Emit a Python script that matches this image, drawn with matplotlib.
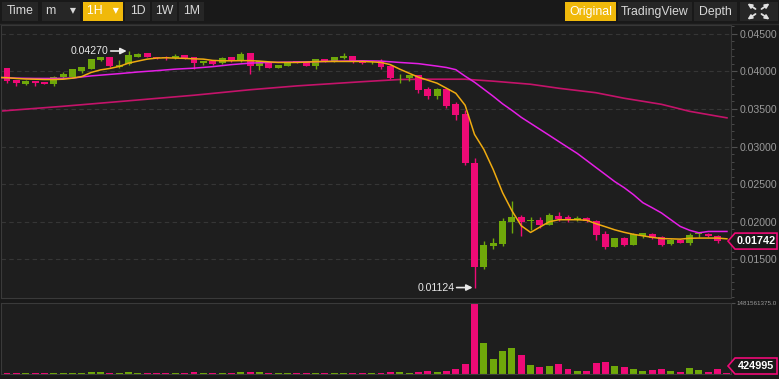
import matplotlib.pyplot as plt
from matplotlib.patches import Rectangle, Polygon, FancyArrowPatch
from matplotlib.transforms import IdentityTransform
from matplotlib.ticker import FixedLocator, MultipleLocator, FormatStrFormatter

plt.rcParams['font.family'] = ['Liberation Sans', 'DejaVu Sans']

# 1H candles, index -1 is the one cut off at the left edge
candle_idx = list(range(-1, 78))

opens = [0.03905,
         0.04038, 0.03882, 0.03832, 0.03868, 0.03855, 0.03828, 0.03931, 0.03931, 0.04006, 0.04029,
         0.04149, 0.04185, 0.04054, 0.04095, 0.04196, 0.04242, 0.04189, 0.04185, 0.04176, 0.04216,
         0.04189, 0.04105, 0.04136, 0.04105, 0.04185, 0.04136, 0.04242, 0.04073, 0.04126, 0.04046,
         0.04073, 0.04136, 0.04126, 0.04073, 0.04162, 0.04126, 0.04180, 0.04206, 0.04125, 0.04118,
         0.04140, 0.04073, 0.03909, 0.03909, 0.03949, 0.03762, 0.03672, 0.03771, 0.03561, 0.03427,
         0.02783, 0.01403, 0.01683, 0.01706, 0.01990, 0.02057, 0.02003, 0.02026, 0.01959, 0.02079,
         0.02057, 0.02017, 0.02048, 0.02013, 0.01835, 0.01669, 0.01782, 0.01692, 0.01803, 0.01835,
         0.01795, 0.01702, 0.01760, 0.01723, 0.01835, 0.01840, 0.01813, 0.01745]
closes = [0.04038,
          0.03873, 0.03838, 0.03873, 0.03842, 0.03833, 0.03931, 0.03962, 0.04029, 0.04051, 0.04162,
          0.04189, 0.04065, 0.04089, 0.04216, 0.04233, 0.04189, 0.04172, 0.04172, 0.04202, 0.04180,
          0.04109, 0.04136, 0.04095, 0.04180, 0.04136, 0.04233, 0.04073, 0.04136, 0.04046, 0.04082,
          0.04126, 0.04118, 0.04073, 0.04162, 0.04126, 0.04185, 0.04206, 0.04118, 0.04118, 0.04130,
          0.04059, 0.03909, 0.03915, 0.03949, 0.03748, 0.03672, 0.03771, 0.03539, 0.03419, 0.02783,
          0.01403, 0.01692, 0.01723, 0.02003, 0.02057, 0.02000, 0.02026, 0.01950, 0.02093, 0.02039,
          0.02017, 0.02048, 0.02003, 0.01826, 0.01669, 0.01782, 0.01692, 0.01835, 0.01848, 0.01782,
          0.01692, 0.01760, 0.01723, 0.01826, 0.01848, 0.01803, 0.01737, 0.01742]
highs = [0.04050,
         0.04050, 0.03885, 0.03878, 0.03872, 0.03858, 0.03935, 0.03985, 0.04035, 0.04060, 0.04170,
         0.04195, 0.04190, 0.04153, 0.04270, 0.04240, 0.04245, 0.04195, 0.04210, 0.04235, 0.04222,
         0.04195, 0.04140, 0.04140, 0.04185, 0.04190, 0.04255, 0.04245, 0.04140, 0.04130, 0.04085,
         0.04130, 0.04140, 0.04130, 0.04168, 0.04166, 0.04190, 0.04240, 0.04210, 0.04140, 0.04135,
         0.04162, 0.04078, 0.03960, 0.03952, 0.03955, 0.03790, 0.03775, 0.03775, 0.03592, 0.03485,
         0.02850, 0.01745, 0.01782, 0.02050, 0.02280, 0.02093, 0.02057, 0.02057, 0.02115, 0.02123,
         0.02085, 0.02070, 0.02065, 0.02020, 0.01870, 0.01785, 0.01800, 0.01855, 0.01855, 0.01855,
         0.01815, 0.01765, 0.01770, 0.01855, 0.01860, 0.01845, 0.01825, 0.01746]
lows = [0.03890,
        0.03851, 0.03806, 0.03815, 0.03810, 0.03828, 0.03806, 0.03905, 0.03925, 0.03975, 0.04025,
        0.04140, 0.04060, 0.04050, 0.04090, 0.04190, 0.04185, 0.04165, 0.04150, 0.04170, 0.04170,
        0.04029, 0.04080, 0.04085, 0.04100, 0.04125, 0.04130, 0.03962, 0.04020, 0.04040, 0.04040,
        0.04068, 0.04112, 0.04068, 0.04029, 0.04120, 0.04120, 0.04165, 0.04112, 0.04100, 0.04095,
        0.04029, 0.03900, 0.03850, 0.03870, 0.03715, 0.03630, 0.03635, 0.03515, 0.03348, 0.02751,
        0.01124, 0.01368, 0.01635, 0.01679, 0.01848, 0.01803, 0.01893, 0.01915, 0.01955, 0.02003,
        0.01990, 0.02010, 0.01995, 0.01757, 0.01635, 0.01665, 0.01680, 0.01685, 0.01780, 0.01770,
        0.01680, 0.01690, 0.01715, 0.01690, 0.01790, 0.01798, 0.01715, 0.01740]

# volume in millions
volumes = [21.5,
           21.5, 21.5, 21.5, 21.5, 21.5, 21.5, 21.5, 21.5, 21.5, 43.0,
           43.0, 21.5, 21.5, 43.0, 21.5, 21.5, 21.5, 21.5, 21.5, 21.5,
           43.0, 21.5, 21.5, 21.5, 21.5, 43.0, 43.0, 43.0, 21.5, 21.5,
           21.5, 21.5, 21.5, 21.5, 21.5, 21.5, 21.5, 21.5, 21.5, 21.5,
           21.5, 43.0, 43.0, 21.5, 43.0, 64.4, 43.0, 64.4, 107.4, 214.7,
           1481.561375, 644.2, 322.1, 472.4, 536.8, 386.5, 193.2, 150.3, 171.8, 214.7,
           107.4, 64.4, 64.4, 236.2, 257.7, 171.8, 150.3, 107.4, 64.4, 85.9,
           107.4, 64.4, 43.0, 128.8, 85.9, 43.0, 107.4, 0.424995]

ma7 = [0.03919,
       0.03915, 0.03905, 0.03898, 0.03895, 0.03891, 0.03891, 0.03895, 0.03909, 0.03931, 0.03985,
       0.04019, 0.04038, 0.04065, 0.04109, 0.04136, 0.04162, 0.04176, 0.04180, 0.04176, 0.04172,
       0.04166, 0.04162, 0.04145, 0.04140, 0.04140, 0.04142, 0.04142, 0.04136, 0.04126, 0.04118,
       0.04118, 0.04118, 0.04122, 0.04129, 0.04131, 0.04131, 0.04131, 0.04131, 0.04131, 0.04126,
       0.04118, 0.04089, 0.04029, 0.03975, 0.03922, 0.03882, 0.03842, 0.03775, 0.03708, 0.03548,
       0.03161, 0.02961, 0.02694, 0.02387, 0.02146, 0.01946, 0.01857, 0.01929, 0.01999, 0.02026,
       0.02026, 0.02026, 0.02019, 0.01973, 0.01933, 0.01892, 0.01859, 0.01832, 0.01812, 0.01792,
       0.01776, 0.01772, 0.01768, 0.01779, 0.01782, 0.01782, 0.01782, 0.01772]

ma25_idx = [-1, 0, 1, 3, 5, 7, 8, 9, 10, 12, 14, 16, 18, 20, 22, 24, 26, 28, 30, 32, 34, 36, 38, 40,
            42, 44, 46, 47, 48, 49, 50, 51, 52, 53, 54, 55, 56, 57, 58, 59, 60, 61, 62, 63, 64, 65,
            66, 67, 68, 69, 70, 71, 72, 73, 74, 75, 76, 77]
ma25 = [0.03918, 0.03915, 0.03909, 0.03905, 0.03905, 0.03909, 0.03925, 0.03939, 0.03949, 0.03969,
        0.03991, 0.04009, 0.04029, 0.04042, 0.04062, 0.04089, 0.04109, 0.04118, 0.04122, 0.04126,
        0.04131, 0.04136, 0.04140, 0.04136, 0.04118, 0.04102, 0.04069, 0.04051, 0.04022, 0.03935,
        0.03855, 0.03762, 0.03668, 0.03568, 0.03481, 0.03388, 0.03308, 0.03228, 0.03148, 0.03067,
        0.02987, 0.02907, 0.02814, 0.02720, 0.02627, 0.02533, 0.02453, 0.02360, 0.02253, 0.02186,
        0.02116, 0.02026, 0.01937, 0.01886, 0.01852, 0.01870, 0.01870, 0.01870]

ma99_idx = [-1, 6, 13, 20, 26, 31, 38, 42, 45, 49, 52, 56, 59, 63, 66, 70, 73, 77]
ma99 = [0.03468, 0.03535, 0.03608, 0.03682, 0.03755, 0.03806, 0.03862, 0.03891, 0.03895,
        0.03895, 0.03869, 0.03828, 0.03775, 0.03715, 0.03642, 0.03561, 0.03468, 0.03381]

price_ticks = [0.015, 0.020, 0.025, 0.030, 0.035, 0.040, 0.045]

GREEN = '#6fa80a'
RED = '#ee0a76'
YELLOW = '#efab10'
MAGENTA = '#e61ee6'
DARKPINK = '#c4136a'
BG = '#1e1e1e'
FIG_BG = '#191919'
BORDER = '#3a3a3a'
TXT = '#9a9a9a'

W, H = 779, 379
fig = plt.figure(figsize=(W / 100, H / 100), dpi=100, facecolor=FIG_BG)


def box(x0, y0, x1, y1):
    # pixel box measured from the top-left -> figure fraction rect
    return [x0 / W, 1 - y1 / H, (x1 - x0) / W, (y1 - y0) / H]


def pix(x, y):
    return (x, H - y)


ax = fig.add_axes(box(1, 25, 731, 298))
axv = fig.add_axes(box(1, 303, 731, 374), sharex=ax)

cols = [GREEN if c >= o else RED for o, c in zip(opens, closes)]
min_h = 0.00011
bottoms = []
heights = []
for o, c in zip(opens, closes):
    d = abs(c - o)
    hh = max(d, min_h)
    bottoms.append(min(o, c) - (hh - d) / 2)
    heights.append(hh)

ax.vlines(candle_idx, lows, highs, colors=cols, lw=1, zorder=3)
ax.bar(candle_idx, heights, bottom=bottoms, width=0.74, color=cols, lw=0, zorder=4)

ax.plot(ma99_idx, ma99, color=DARKPINK, lw=1.2, zorder=2)
ax.plot(ma25_idx, ma25, color=MAGENTA, lw=1.1, zorder=5)
ax.plot(candle_idx, ma7, color=YELLOW, lw=1.1, zorder=6)

ax.set_xlim((1 - 7) / 9.35, (731 - 7) / 9.35)
ax.set_ylim(0.00985, 0.04616)
ax.set_facecolor(BG)
ax.yaxis.tick_right()
ax.yaxis.set_major_locator(FixedLocator(price_ticks))
ax.yaxis.set_minor_locator(MultipleLocator(0.001))
ax.yaxis.set_major_formatter(FormatStrFormatter('%.5f'))
ax.tick_params(axis='y', which='major', length=4, color='#505050', labelcolor=TXT,
               labelsize=7.6, pad=2)
ax.tick_params(axis='y', which='minor', length=2, color='#505050')
ax.tick_params(axis='x', which='both', bottom=False, labelbottom=False)
ax.grid(axis='y', which='major', color='#363636', ls=(0, (4, 3)), lw=0.8)
for s in ax.spines.values():
    s.set_color(BORDER)
    s.set_linewidth(0.8)

# max / min markers
hi_i = highs.index(max(highs)) - 1
lo_i = lows.index(min(lows)) - 1
for xi, val in [(hi_i, max(highs)), (lo_i, min(lows))]:
    ax.annotate('', xy=(xi - 0.2, val), xytext=(-16, 0), textcoords='offset pixels',
                arrowprops=dict(arrowstyle='-|>', color='#e8e8e8', lw=1.2,
                                mutation_scale=9, shrinkA=0, shrinkB=0))
    ax.annotate('%.5f' % val, xy=(xi - 0.2, val), xytext=(-18, 0), textcoords='offset pixels',
                ha='right', va='center', color='#e8e8e8', fontsize=7.6)

# volume
vcols = cols
vmax = max(volumes)
vheights = [max(v, vmax * 0.012) for v in volumes]
axv.bar(candle_idx, vheights, width=0.74, color=vcols, lw=0)
axv.set_ylim(0, vmax)
axv.set_facecolor(BG)
axv.yaxis.tick_right()
axv.set_yticks([vmax])
axv.set_yticklabels(['%.1f' % (vmax * 1e6)])
axv.tick_params(axis='y', length=3, color='#505050', labelcolor=TXT, labelsize=4.5, pad=1)
axv.tick_params(axis='x', which='both', bottom=False, labelbottom=False)
for s in axv.spines.values():
    s.set_color(BORDER)
    s.set_linewidth(0.8)

# current value tags on the right
def tag(axis, yval, text, ymin_px):
    yd = axis.transData.transform((0, yval))[1]
    yd = max(yd, ymin_px)
    pts = [(728, yd), (735, yd + 8), (777, yd + 8), (777, yd - 8), (735, yd - 8)]
    fig.add_artist(Polygon(pts, closed=True, transform=IdentityTransform(), fc=FIG_BG,
                           ec=RED, lw=1.2, zorder=10))
    fig.text(756 / W, yd / H, text, ha='center', va='center', color='white',
             fontsize=7.8, fontweight='bold', zorder=11)

tag(ax, closes[-1], '%.5f' % closes[-1], 0)
tag(axv, volumes[-1], '%d' % round(volumes[-1] * 1e6), H - 366)

# toolbar
tool_bg = '#262626'
gold = '#f0b90b'
buttons_left = [('Time', 2, 38, False), ('m    \u25be', 42, 80, False), ('1H   \u25be', 83, 123, True),
                ('1D', 125, 150, False), ('1W', 152, 177, False), ('1M', 179, 204, False)]
buttons_right = [('Original', 565, 616, True), ('TradingView', 618, 692, False),
                 ('Depth', 694, 737, False)]
for label, x0, x1, active in buttons_left + buttons_right:
    fig.add_artist(Rectangle(pix(x0, 21), x1 - x0, 19, transform=IdentityTransform(),
                             fc=gold if active else tool_bg, ec='none'))
    fig.text((x0 + x1) / 2 / W, 1 - 11.5 / H, label, ha='center', va='center',
             color='white' if active else '#d8d8d8', fontsize=8.8)
fig.add_artist(Rectangle(pix(740, 21), 38, 19, transform=IdentityTransform(), fc=tool_bg, ec='none'))
cx, cy = 758.5, 11.5
for dx, dy in [(-1, -1), (1, -1), (-1, 1), (1, 1)]:
    fig.add_artist(FancyArrowPatch(pix(cx + dx * 3, cy + dy * 2.5), pix(cx + dx * 11, cy + dy * 8),
                                   transform=IdentityTransform(), arrowstyle='-|>',
                                   mutation_scale=6, lw=1.3, color='#e0e0e0',
                                   shrinkA=0, shrinkB=0))
fig.add_artist(plt.Line2D([0, W], [H - 24, H - 24], transform=IdentityTransform(),
                          color='#2c2c2c', lw=1))

fig.savefig('out.png', dpi=100, facecolor=FIG_BG)
